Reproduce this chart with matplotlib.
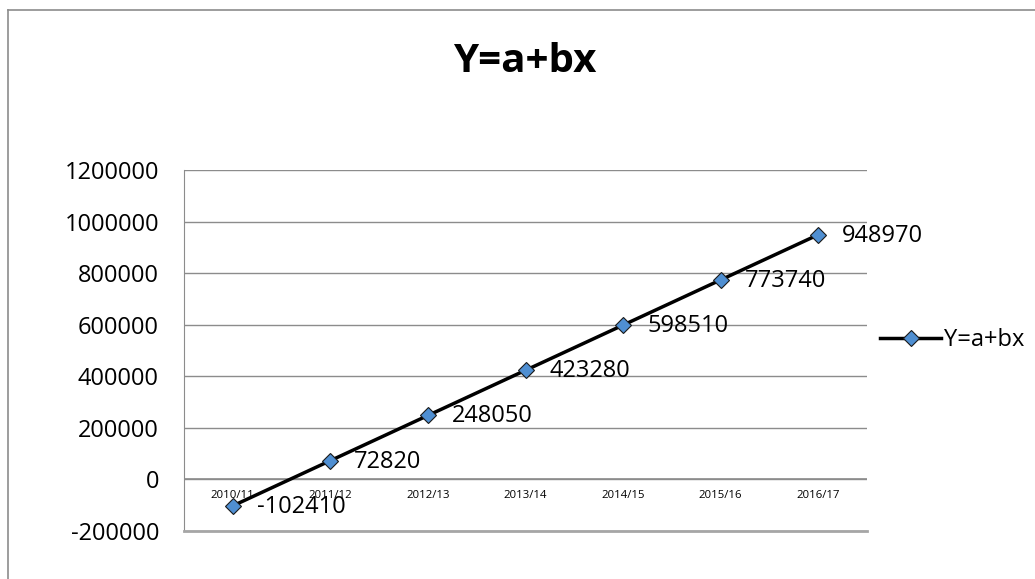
import matplotlib
matplotlib.use('Agg')
import matplotlib.pyplot as plt
import numpy as np

years = ['2010/11', '2011/12', '2012/13', '2013/14', '2014/15', '2015/16', '2016/17']
y_vals = [-102410, 72820, 248050, 423280, 598510, 773740, 948970]
yticks = [-200000, 0, 200000, 400000, 600000, 800000, 1000000, 1200000]
series_name = 'Y=a+bx'

plt.rcParams['font.family'] = ['Open Sans', 'DejaVu Sans']

W, H = 1035, 579
fig = plt.figure(figsize=(W / 100, H / 100), dpi=100)

# outer chart frame (only left and top edges visible)
fig.add_artist(plt.Line2D([8 / W, 8 / W], [0, 1 - 10 / H], color='#8c8c8c', lw=1.2))
fig.add_artist(plt.Line2D([8 / W, 1], [1 - 10 / H, 1 - 10 / H], color='#8c8c8c', lw=1.2))

left, right, top, bottom = 184, 867, 170, 531
ax = fig.add_axes([left / W, 1 - bottom / H, (right - left) / W, (bottom - top) / H])

x = np.arange(len(years)) + 0.5
ax.plot(x, y_vals, color='black', lw=2.5, marker='D', markersize=8.5,
        markerfacecolor='#4F8FD2', markeredgecolor='#1a1a1a', markeredgewidth=0.8,
        label=series_name, zorder=3)

ax.set_xlim(0, len(years))
ax.set_ylim(-200000, 1200000)
ax.set_yticks(yticks)
ax.set_yticklabels([str(v) for v in yticks], fontsize=17)
ax.tick_params(axis='y', length=0, pad=18)
ax.set_xticks([])
ax.grid(axis='y', color='#8c8c8c', lw=1)
ax.axhline(0, color='#8c8c8c', lw=1.2, zorder=2)

for sp in ['top', 'right']:
    ax.spines[sp].set_visible(False)
ax.spines['left'].set_color('#8c8c8c')
ax.spines['bottom'].set_color('#a6a6a6')
ax.spines['bottom'].set_linewidth(2)

# category labels under the 0 line
for xi, lab in zip(x, years):
    ax.annotate(lab, (xi, 0), xytext=(0, -16), textcoords='offset pixels',
                ha='center', va='center', fontsize=8.2, zorder=1)

# data labels
for xi, v in zip(x, y_vals):
    ax.annotate(str(v), (xi, v), xytext=(24, -1), textcoords='offset pixels',
                ha='left', va='center', fontsize=17, zorder=4)

fig.text(525 / W, 1 - 62 / H, 'Y=a+bx', ha='center', va='center',
         fontsize=29, fontweight='bold')

ax.legend(loc='center left', bbox_to_anchor=(880 / W, 1 - 340 / H),
          bbox_transform=fig.transFigure, frameon=False, fontsize=17,
          handlelength=2.6, handletextpad=0.1, borderaxespad=0, borderpad=0)

fig.savefig('out.png', dpi=100)
